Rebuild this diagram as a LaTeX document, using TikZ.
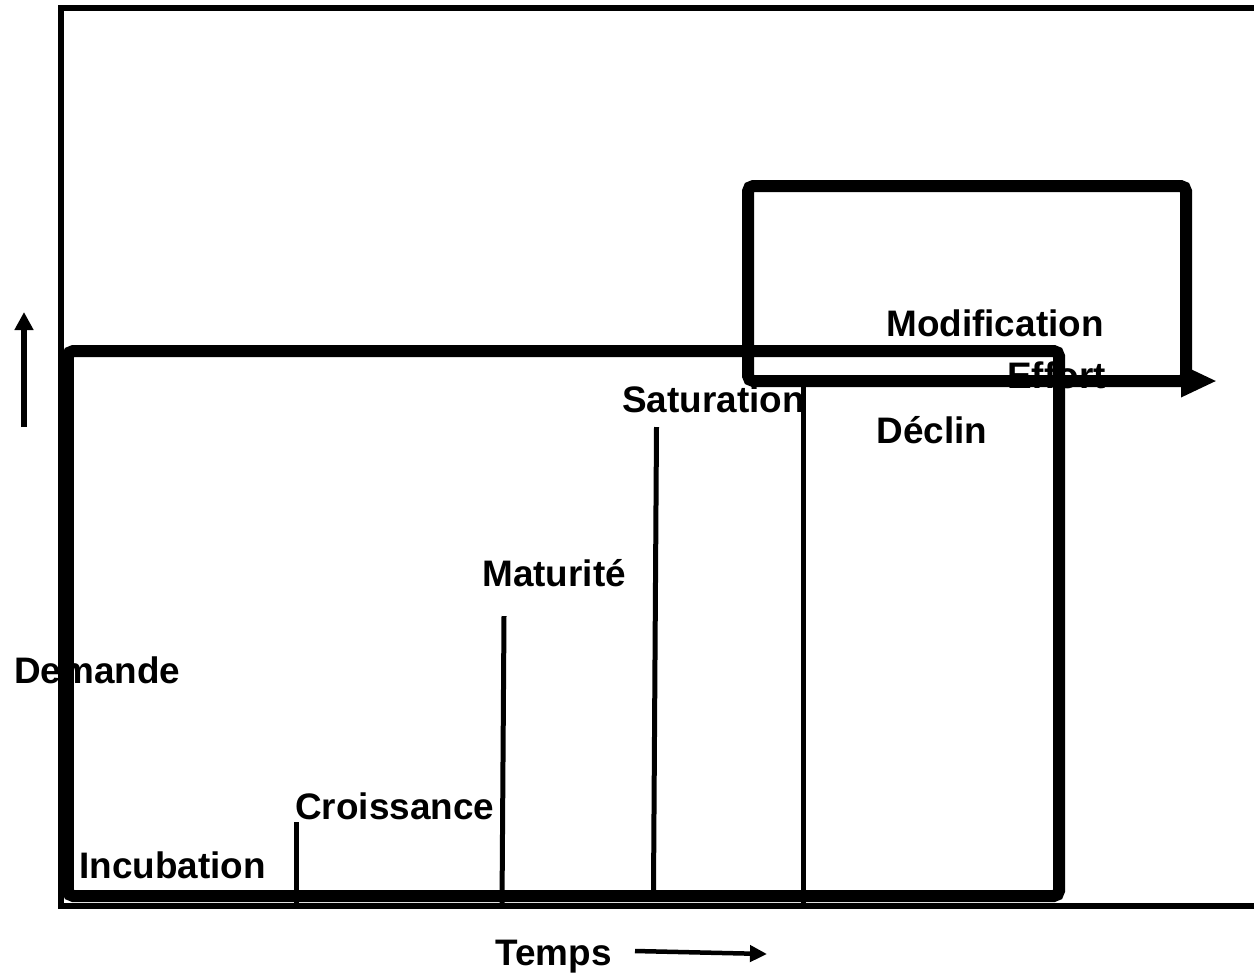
\documentclass[tikz,border=0pt]{standalone}
\usepackage{fontspec}
\setmainfont{Liberation Sans}
\usetikzlibrary{arrows.meta}

\begin{document}
\begin{tikzpicture}[
        x=0.02cm, y=-0.02cm,
        label/.style={
                font=\bfseries\fontsize{21}{25}\selectfont,
                inner sep=0pt, anchor=base west
            },
        frame/.style={draw=black, line width=0.11cm},
        thickbox/.style={draw=black, line width=0.24cm, rounded corners=3pt},
        tick/.style={draw=black, line width=0.1cm},
        axisarrow/.style={draw=black, line width=0.11cm,
                -{Triangle[length=0.36cm, width=0.36cm]}}
    ]
    \useasboundingbox (0,0) rectangle (1254,975);

    % ===== Phase labels (under the lines) =====
    \node[label] (modif) at (886,336) {Modification};
    \node[label] (effort) at (1007,388) {Effort};
    \node[label] (satur) at (622,412) {Saturation};
    \node[label] (declin) at (876,443) {Déclin};
    \node[label] (matur) at (482,586) {Maturité};
    \node[label] (demande) at (14,683) {Demande};
    \node[label] (croiss) at (295,819) {Croissance};
    \node[label] (incub) at (79,878) {Incubation};
    \node[label] (temps) at (495,965) {Temps};

    % ===== Outer frame (open on the right) =====
    \draw[frame] (1254,8) -- (61,8) -- (61,906) -- (1254,906);

    % ===== Main cycle box =====
    \draw[thickbox] (68,351) rectangle (1059,896);

    % ===== Modification box with effort arrow =====
    \draw[thickbox] (1186,381) -- (748,381) -- (748,186) -- (1186,186) -- cycle;
    \draw[draw=black, line width=0.24cm,
        -{Triangle[length=0.72cm, width=0.6cm]}] (1180,381) -- (1217,381);

    % ===== Phase separators =====
    \draw[tick] (296,822) -- (296,906);
    \draw[tick] (504,616) -- (502,906);
    \draw[tick] (656.5,427) -- (653.5,890);
    \draw[tick] (803,386) -- (803,908);

    % ===== Axis arrows =====
    \coordinate (ylow) at (24,427);
    \coordinate (yhigh) at (24,312);
    \draw[axisarrow] (ylow) -- (yhigh);
    \coordinate (xlow) at (635,951);
    \coordinate (xhigh) at (767,954);
    \draw[axisarrow, line width=0.09cm,
        -{Triangle[length=0.34cm, width=0.32cm]}] (xlow) -- (xhigh);

\end{tikzpicture}
\end{document}
